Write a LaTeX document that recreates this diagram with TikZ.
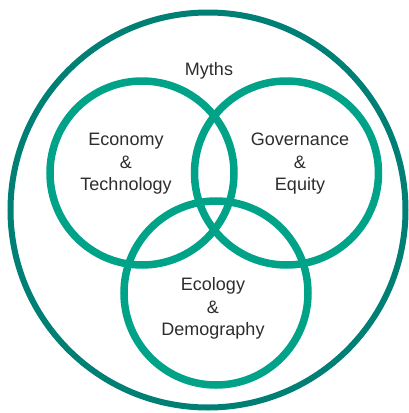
\documentclass[tikz,border=0pt]{standalone}
\usepackage{fontspec}
\setmainfont{Liberation Sans}
\definecolor{outerteal}{RGB}{0,128,117}
\definecolor{innerteal}{RGB}{0,162,136}
\definecolor{textgray}{RGB}{45,45,45}
\tikzset{
  ring/.style={circle, draw=innerteal, line width=7.5pt, minimum size=184pt, inner sep=0pt},
  label/.style={align=center, inner sep=0pt, text=textgray, font=\fontsize{18}{22.5}\selectfont}
}
\begin{document}
\begin{tikzpicture}[x=1pt, y=-1pt]
        \useasboundingbox (0,0) rectangle (409,413);
        \node[circle, draw=outerteal, line width=6pt, minimum size=395pt, inner sep=0pt] (myths) at (208,210) {};
        \node[ring] (econ) at (142,173) {};
        \node[ring] (gov) at (286.5,173) {};
        \node[ring] (eco) at (216,293) {};
        
        \node[label, anchor=base] (mythstext) at (209,75) {Myths};
        \node[label] (econtext) at (126,164) {Economy\\\&\\Technology};
        \node[label] (govtext) at (300,164) {Governance\\\&\\Equity};
        \node[label] (ecotext) at (213,308.5) {Ecology\\\&\\Demography};
      \end{tikzpicture}
\end{document}
